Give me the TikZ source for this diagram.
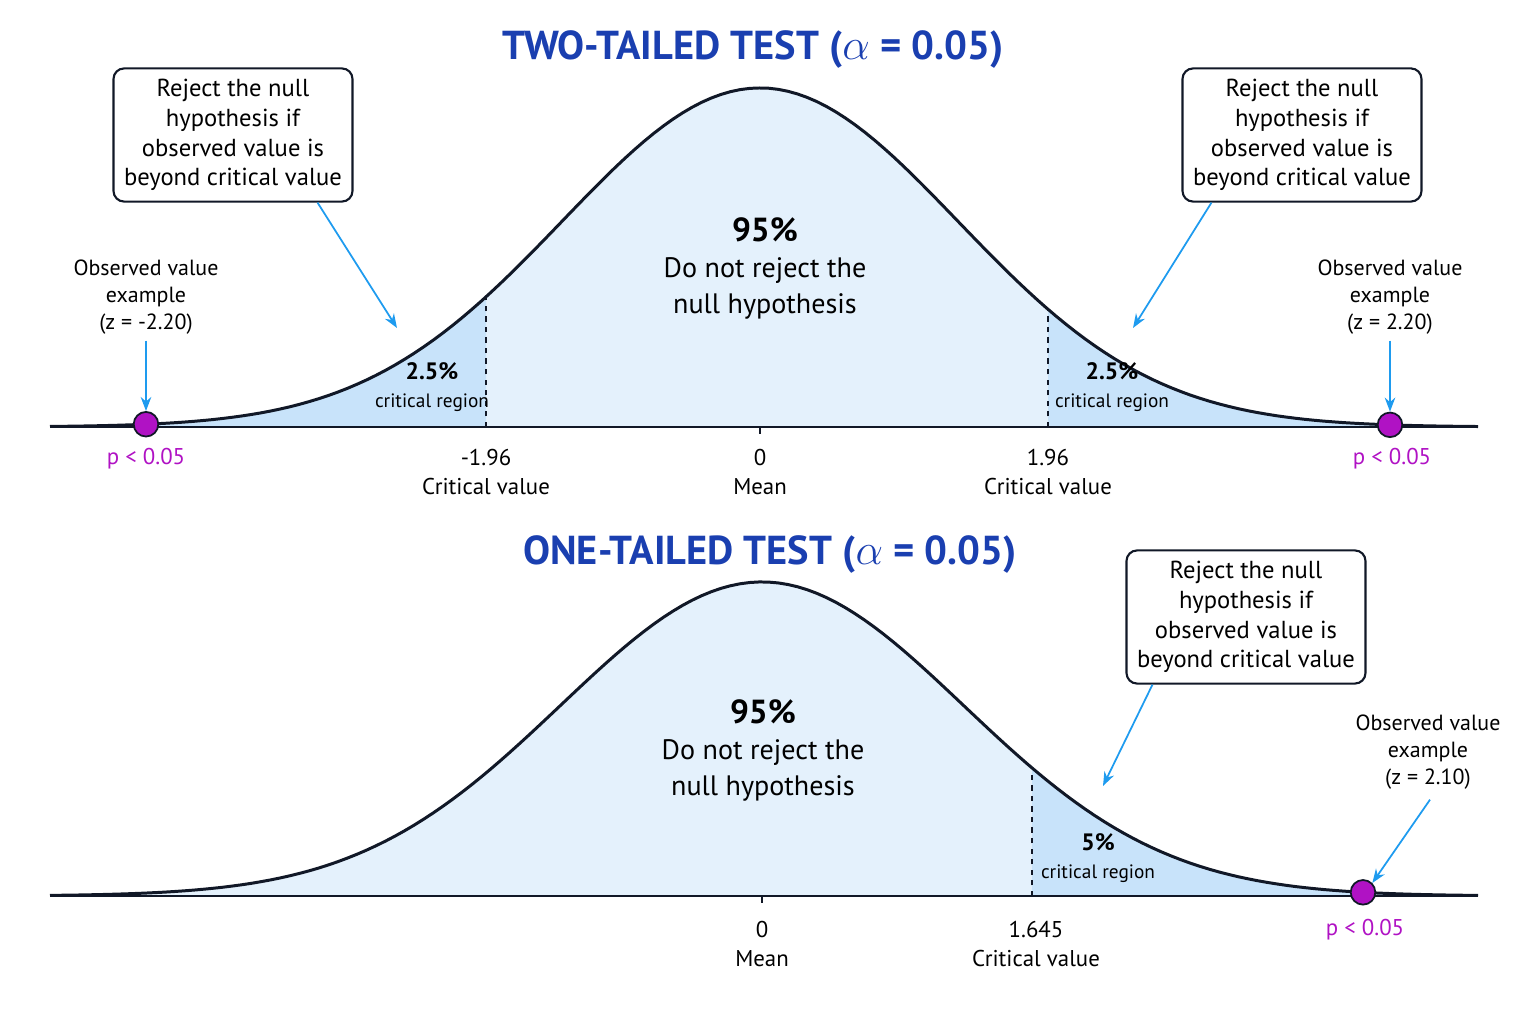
\documentclass[tikz,border=0pt]{standalone}
\usepackage{fontspec}
\setmainfont{PT Sans}
\usetikzlibrary{arrows.meta,positioning,calc}
\definecolor{titleblue}{HTML}{1A3FB0}
\definecolor{bodyfill}{HTML}{E4F1FC}
\definecolor{tailfill}{HTML}{C8E3FA}
\definecolor{arrowblue}{HTML}{1E9BEF}
\definecolor{dotpurple}{HTML}{B012C4}
\definecolor{ink}{HTML}{111827}
\tikzset{
  curve/.style={line width=1.7pt,ink},
  axis/.style={line width=1.3pt,ink},
  crit/.style={dashed,line width=1pt,ink},
  infobox/.style={draw=ink,line width=1.2pt,rounded corners=6pt,fill=white,align=center,font=\fontsize{14}{17}\selectfont,inner sep=6pt},
  pointer/.style={-{Stealth[length=8pt]},arrowblue,line width=1pt},
  obslabel/.style={align=center,font=\fontsize{12.5}{15.5}\selectfont},
  tick/.style={align=center,font=\fontsize{13}{16}\selectfont},
  plabel/.style={dotpurple,font=\fontsize{13}{16}\selectfont},
  dot/.style={circle,fill=dotpurple,draw=ink,line width=1pt,minimum size=14pt,inner sep=0pt},
  title/.style={titleblue,font=\fontsize{23}{27}\selectfont\bfseries},
}
\begin{document}
\begin{tikzpicture}[x=0.02cm,y=0.02cm,
  declare function={gtop(\x)=597+339*exp(-0.5*((\x-760)/198)^2);
                    gbot(\x)=128+314*exp(-0.5*((\x-762)/201.6)^2);}]
\useasboundingbox (0,0) rectangle (1536,1024);

% Two-tailed test
\node[title] (ttitle) at (753,974) {TWO-TAILED TEST ($\alpha$ = 0.05)};
\fill[bodyfill] (50,597) -- plot[domain=50:1478,samples=150] ({\x},{gtop(\x)}) -- (1478,597) -- cycle;
\fill[tailfill] (50,597) -- plot[domain=50:486,samples=60] ({\x},{gtop(\x)}) -- (486,597) -- cycle;
\fill[tailfill] (1048,597) -- plot[domain=1048:1478,samples=60] ({\x},{gtop(\x)}) -- (1478,597) -- cycle;
\draw[curve] plot[domain=50:1478,samples=150] ({\x},{gtop(\x)});
\draw[axis] (50,597) -- (1478,597);
\draw[crit] (486,597) -- (486,{gtop(486)});
\draw[crit] (1048,597) -- (1048,{gtop(1048)});
\draw[axis] (760,597) -- (760,590);

\node[font=\fontsize{19}{22}\selectfont\bfseries] (tpct) at (765,794) {95\%};
\node[align=center,font=\fontsize{16}{20}\selectfont,below=2pt of tpct] (tkeep) {Do not reject the\\null hypothesis};
\node[align=center,font=\fontsize{13.5}{14}\selectfont] (tlreg) at (432,637) {\textbf{2.5\%}\\[2pt]{\fontsize{11}{13}\selectfont critical region}};
\node[align=center,font=\fontsize{13.5}{14}\selectfont] (trreg) at (1112,637) {\textbf{2.5\%}\\[2pt]{\fontsize{11}{13}\selectfont critical region}};

\node[tick] (tlcv) at (486,552) {-1.96\\Critical value};
\node[tick] (tmean) at (760,552) {0\\Mean};
\node[tick] (trcv) at (1048,552) {1.96\\Critical value};

\node[infobox] (tlbox) at (233,889) {Reject the null\\hypothesis if\\observed value is\\beyond critical value};
\node[infobox] (trbox) at (1302,889) {Reject the null\\hypothesis if\\observed value is\\beyond critical value};
\coordinate (tlhit) at (397,696);
\coordinate (trhit) at (1133,696);
\draw[pointer] (tlbox.south east) ++(-36,0) -- (tlhit);
\draw[pointer] (trbox.south west) ++(30,0) -- (trhit);

\node[dot] (tldot) at (146,{gtop(146)}) {};
\node[dot] (trdot) at (1390,{gtop(1390)}) {};
\node[obslabel] (tlobs) at (146,727) {Observed value\\example\\(z = -2.20)};
\node[obslabel] (trobs) at (1390,727) {Observed value\\example\\(z = 2.20)};
\draw[pointer] (tlobs.south) -- (tldot.north);
\draw[pointer] (trobs.south) -- (trdot.north);
\node[plabel] (tlp) at (146,565) {p < 0.05};
\node[plabel] (trp) at (1392,565) {p < 0.05};

% One-tailed test
\node[title] (btitle) at (770,469) {ONE-TAILED TEST ($\alpha$ = 0.05)};
\fill[bodyfill] (50,128) -- plot[domain=50:1478,samples=150] ({\x},{gbot(\x)}) -- (1478,128) -- cycle;
\fill[tailfill] (1032,128) -- plot[domain=1032:1478,samples=60] ({\x},{gbot(\x)}) -- (1478,128) -- cycle;
\draw[curve] plot[domain=50:1478,samples=150] ({\x},{gbot(\x)});
\draw[axis] (50,128) -- (1478,128);
\draw[crit] (1032,128) -- (1032,{gbot(1032)});
\draw[axis] (762,128) -- (762,121);

\node[font=\fontsize{19}{22}\selectfont\bfseries] (bpct) at (763,312) {95\%};
\node[align=center,font=\fontsize{16}{20}\selectfont,below=2pt of bpct] (bkeep) {Do not reject the\\null hypothesis};
\node[align=center,font=\fontsize{13.5}{14}\selectfont] (breg) at (1098,166) {\textbf{5\%}\\[2pt]{\fontsize{11}{13}\selectfont critical region}};

\node[tick] (bmean) at (762,80) {0\\Mean};
\node[tick] (bcv) at (1036,80) {1.645\\Critical value};

\node[infobox] (bbox) at (1246,407) {Reject the null\\hypothesis if\\observed value is\\beyond critical value};
\coordinate (bhit) at (1103,238);
\draw[pointer] (bbox.south west) ++(27,0) -- (bhit);

\node[dot] (bdot) at (1363,{gbot(1363)}) {};
\node[obslabel] (bobs) at (1428,272) {Observed value\\example\\(z = 2.10)};
\draw[pointer] (bobs.south) ++(2,-4) -- (bdot.north east);
\node[plabel] (bp) at (1365,94) {p < 0.05};
\end{tikzpicture}
\end{document}
